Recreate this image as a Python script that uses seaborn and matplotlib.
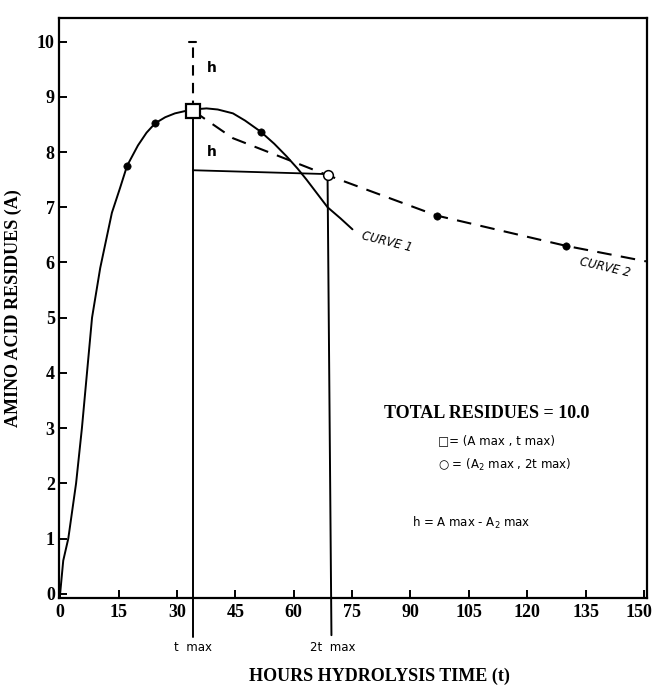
import matplotlib
matplotlib.use("Agg")
import matplotlib.pyplot as plt
import matplotlib.transforms as mtransforms
import seaborn as sns
import pandas as pd

"""Plot setup"""
sns.set_style("ticks")
plt.rcParams.update({
    "font.family": ["Liberation Serif", "DejaVu Serif"],
    "axes.linewidth": 1.6,
    "xtick.major.width": 1.4,
    "ytick.major.width": 1.4,
    "text.color": "black",
    "axes.labelcolor": "black",
    "xtick.color": "black",
    "ytick.color": "black",
    "axes.edgecolor": "black",
})

# Curve 1 (solid)
curve1_t = [0, 0.8, 2.1, 4.1, 5.6, 6.9, 8.2, 10.3, 13.3, 15.4, 17.2, 20.0, 22.2, 24.4, 27.0,
            29.5, 32.0, 34.1, 37.6, 40.5, 44.4, 47.5, 51.5, 55.0, 58.2, 61.0, 63.3, 66.0,
            68.7, 72.0, 75.1]
curve1_a = [0, 0.6, 1.0, 2.0, 3.0, 4.0, 5.0, 5.9, 6.9, 7.35, 7.75, 8.12, 8.35, 8.52, 8.63,
            8.70, 8.74, 8.77, 8.79, 8.77, 8.70, 8.57, 8.37, 8.15, 7.92, 7.70, 7.50, 7.25,
            7.00, 6.80, 6.60]

# Curve 2 (dashed)
curve2_t = [34.1, 44.4, 58.2, 68.7, 96.7, 130.0, 150.5]
curve2_a = [8.75, 8.25, 7.87, 7.58, 6.85, 6.30, 6.02]

# measured points (filled dots)
dots_t = [17.2, 24.4, 51.5, 96.7, 130.0]
dots_a = [7.75, 8.52, 8.37, 6.85, 6.30]

# special points
t_max, a_max = 34.1, 8.75
t2_max, a2_max = 68.7, 7.58
total = 10.0
h_level = [7.67, 7.60]   # horizontal line from t max to 2t max

x_ticks = [0, 15, 30, 45, 60, 75, 90, 105, 120, 135, 150]
y_ticks = list(range(0, 11))

fig = plt.figure(figsize=(6.55, 6.86), dpi=100)
ax = fig.add_axes([0.090, 0.128, 0.898, 0.846])

c1 = pd.DataFrame({"t": curve1_t, "A": curve1_a})
c2 = pd.DataFrame({"t": curve2_t, "A": curve2_a})
sns.lineplot(data=c1, x="t", y="A", sort=False, estimator=None, color="black", lw=1.4, ax=ax)
sns.lineplot(data=c2, x="t", y="A", sort=False, estimator=None, color="black", lw=1.5,
             ax=ax, linestyle=(0, (7, 4.5)))
sns.scatterplot(x=dots_t, y=dots_a, color="black", s=28, edgecolor="black", zorder=5, ax=ax)

# t max / 2t max markers
ax.plot([t_max], [a_max], marker="s", ms=10, mfc="white", mec="black", mew=1.6, zorder=6)
ax.plot([t2_max], [a2_max], marker="o", ms=7, mfc="white", mec="black", mew=1.1, zorder=6)

# vertical lines down past the axis
ax.plot([t_max, t_max], [a_max, -0.78], color="black", lw=1.4, clip_on=False)
ax.plot([t2_max, t2_max + 1.0], [a2_max, -0.75], color="black", lw=1.4, clip_on=False)
# horizontal h line
ax.plot([t_max, t2_max], h_level, color="black", lw=1.3)
# dashed h segment up to total residues
ax.plot([t_max, t_max], [a_max, total], color="black", lw=1.5, linestyle=(0, (5, 3.5)))
ax.plot([t_max - 0.9, t_max + 0.9], [total, total], color="black", lw=1.5)

ax.text(39, 9.52, "h", fontsize=10, family="DejaVu Sans", fontweight="bold",
        ha="center", va="center")
ax.text(39, 8.0, "h", fontsize=10, family="DejaVu Sans", fontweight="bold",
        ha="center", va="center")

ax.text(84, 6.38, "CURVE 1", fontsize=8.5, family="DejaVu Sans", style="italic",
        rotation=-14, ha="center", va="center")
ax.text(140, 5.91, "CURVE 2", fontsize=8.5, family="DejaVu Sans", style="italic",
        rotation=-13, ha="center", va="center")

ax.text(109.7, 3.26, "TOTAL RESIDUES = 10.0", fontsize=13, fontweight="bold",
        ha="center", va="center")
ax.text(97, 2.78, "\u25a1= (A max , t max)", fontsize=8.5, family="DejaVu Sans",
        ha="left", va="center")
ax.text(97, 2.33, "\u25cb = (A$_2$ max , 2t max)", fontsize=8.5, family="DejaVu Sans",
        ha="left", va="center")
ax.text(90.5, 1.28, "h = A max - A$_2$ max", fontsize=8.5, family="DejaVu Sans",
        ha="left", va="center")

ax.text(t_max, -0.98, "t  max", fontsize=8.5, family="DejaVu Sans", ha="center", va="center",
        clip_on=False)
ax.text(t2_max + 1.3, -0.98, "2t  max", fontsize=8.5, family="DejaVu Sans", ha="center",
        va="center", clip_on=False)

ax.set_xlim(-0.3, 150.8)
ax.set_ylim(-0.08, 10.43)
ax.set_xticks(x_ticks)
ax.set_yticks(y_ticks)
ax.tick_params(direction="in", length=6, labelsize=13, pad=4)
ax.tick_params(axis="y", pad=3)
xlabels = ax.get_xticklabels()
for lab in xlabels + ax.get_yticklabels():
    lab.set_fontweight("bold")
# nudge the last x label so it stays inside the figure
shift = mtransforms.ScaledTranslation(-5 / 100, 0, fig.dpi_scale_trans)
xlabels[-1].set_transform(xlabels[-1].get_transform() + shift)
for side in ["top", "right", "left", "bottom"]:
    ax.spines[side].set_visible(True)

ax.set_xlabel("HOURS HYDROLYSIS TIME (t)", fontsize=13, fontweight="bold")
ax.xaxis.set_label_coords(0.545, -0.12)
ax.set_ylabel("AMINO ACID RESIDUES (A)", fontsize=13, fontweight="bold")
ax.yaxis.set_label_coords(-0.063, 0.5)

fig.savefig("out.png", dpi=100)
